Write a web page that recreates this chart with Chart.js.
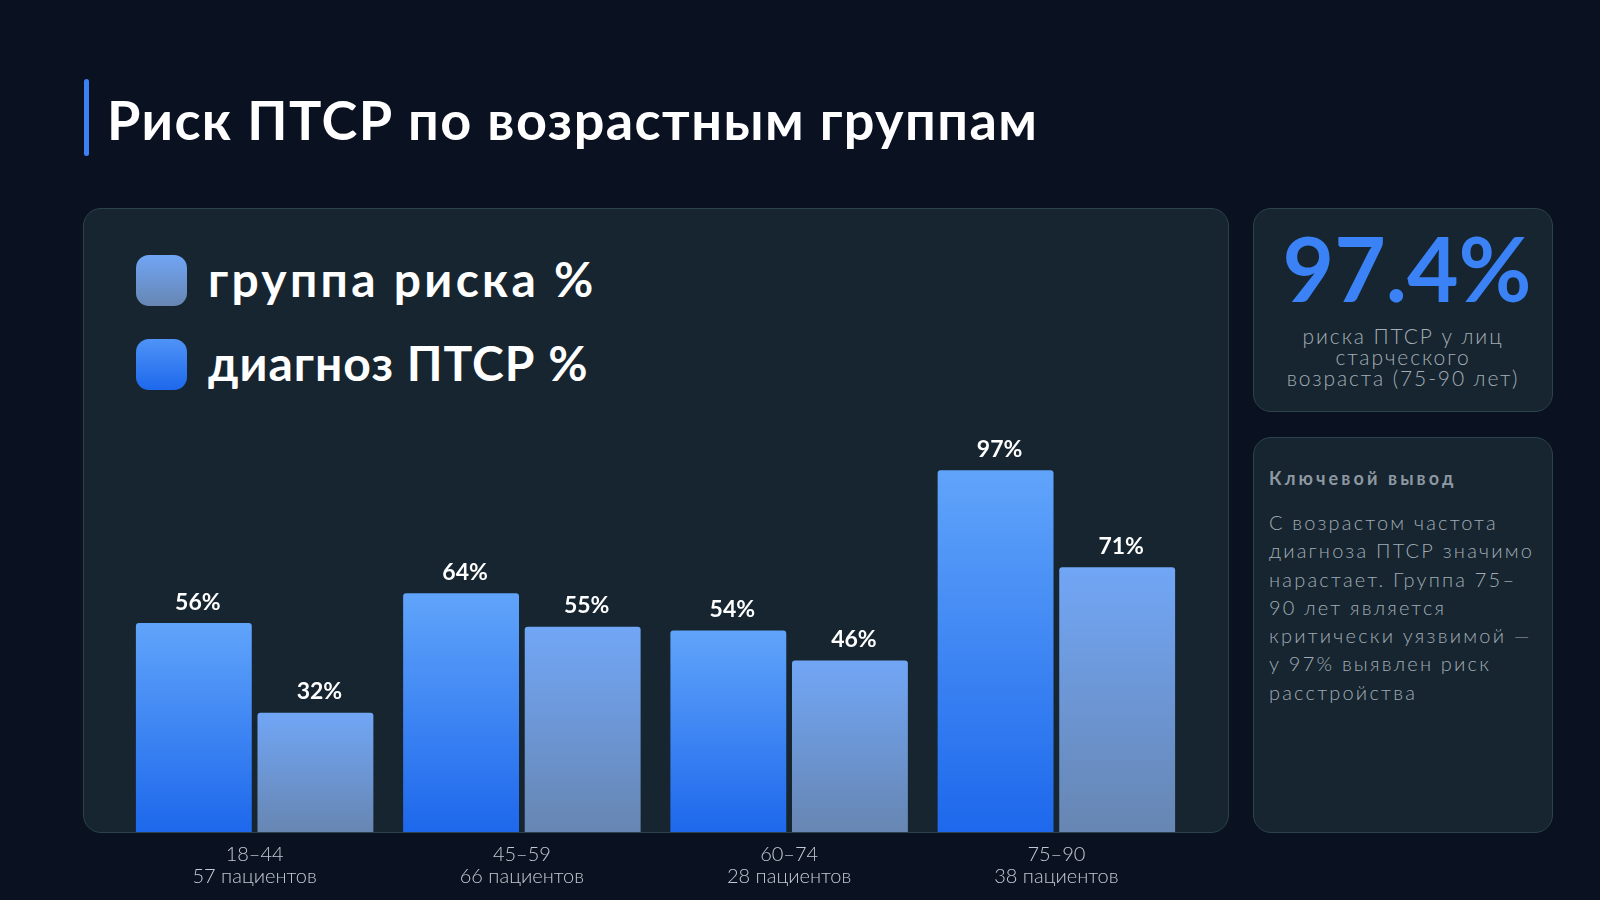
<!DOCTYPE html>
<html lang="ru">
<head>
<meta charset="utf-8">
<title>Риск ПТСР по возрастным группам</title>
<script src="https://cdn.jsdelivr.net/npm/chart.js@4.4.1/dist/chart.umd.min.js"></script>
<style>
    body {
        margin: 0;
        width: 1600px;
        height: 900px;
        overflow: hidden;
        background: #0a1120;
        font-family: Lato, "Open Sans", sans-serif;
        position: relative;
    }

    .title_bar {
        position: absolute;
        left: 84px;
        top: 79px;
        width: 5px;
        height: 77px;
        border-radius: 3px;
        background: #3b82f6;
    }

    .title {
        position: absolute;
        left: 107px;
        top: 86px;
        margin: 0;
        font-size: 54px;
        line-height: 68px;
        font-weight: 700;
        color: #ffffff;
        letter-spacing: 1.45px;
    }

    .panel {
        position: absolute;
        box-sizing: border-box;
        background: #16252f;
        border: 1.5px solid #2c434c;
        border-radius: 18px;
    }

    .legend_row {
        position: absolute;
        left: 136px;
        display: flex;
        align-items: center;
    }

    .legend_box {
        width: 51px;
        height: 51px;
        border-radius: 13px;
        margin-right: 21px;
    }

    .legend_text {
        font-size: 48px;
        font-weight: 700;
        color: #ffffff;
        letter-spacing: 1px;
        position: relative;
        top: -2px;
    }

    .big_number {
        position: absolute;
        left: 1258px;
        width: 298px;
        top: 218px;
        text-align: center;
        font-size: 89px;
        line-height: 100px;
        font-weight: 700;
        color: #3b82f6;
        letter-spacing: 0px;
    }

    .big_caption {
        position: absolute;
        left: 1254px;
        width: 298px;
        top: 325px;
        text-align: center;
        font-size: 21px;
        line-height: 21px;
        font-weight: 300;
        color: #a3adb6;
        letter-spacing: 1.9px;
    }

    .key_title {
        position: absolute;
        left: 1269px;
        top: 467px;
        font-size: 18px;
        font-weight: 700;
        color: #8e98a2;
        letter-spacing: 3.1px;
    }

    .key_text {
        position: absolute;
        left: 1269px;
        top: 508px;
        font-size: 20px;
        line-height: 28.3px;
        font-weight: 300;
        color: #a0abb5;
        letter-spacing: 2.2px;
    }

    #chartBox {
        position: absolute;
        left: 84px;
        top: 400px;
        width: 1144px;
        height: 500px;
    }
</style>
</head>
<body>

<div class="title_bar"></div>
<h1 class="title">Риск ПТСР по возрастным группам</h1>

<div class="panel" style="left: 83px; top: 208px; width: 1146px; height: 625px;"></div>
<div class="panel" style="left: 1253px; top: 208px; width: 300px; height: 204px;"></div>
<div class="panel" style="left: 1253px; top: 437px; width: 300px; height: 396px;"></div>

<div class="legend_row" style="top: 252px;">
    <div class="legend_box" style="background: linear-gradient(#70a5f5, #6786b2);"></div>
    <div class="legend_text" style="letter-spacing: 3.3px;">группа риска %</div>
</div>
<div class="legend_row" style="top: 336px;">
    <div class="legend_box" style="background: linear-gradient(#4f93f7, #1d68ec);"></div>
    <div class="legend_text">диагноз ПТСР %</div>
</div>

<div class="big_number">97.4%</div>
<div class="big_caption">риска ПТСР у лиц<br>старческого<br>возраста (75-90 лет)</div>

<div class="key_title">Ключевой вывод</div>
<div class="key_text">С возрастом частота<br>диагноза ПТСР значимо<br>нарастает. Группа 75–<br>90 лет является<br>критически уязвимой —<br>у 97% выявлен риск<br>расстройства</div>

<div id="chartBox"><canvas id="myChart"></canvas></div>

<script>
let ageGroups = ['18–44', '45–59', '60–74', '75–90'];
let patientCounts = ['57 пациентов', '66 пациентов', '28 пациентов', '38 пациентов'];
let riskGroupPct = [56, 64, 54, 97];
let diagnosisPct = [32, 55, 46, 71];

function barGradient(ctx, topColor, bottomColor) {
    let chart = ctx.chart;
    if (!chart.chartArea || !chart.scales.y) {
        return bottomColor;
    }
    let yTop = chart.scales.y.getPixelForValue(ctx.raw);
    let yBottom = chart.scales.y.getPixelForValue(0);
    if (!isFinite(yTop) || yTop >= yBottom) {
        return bottomColor;
    }
    let gradient = chart.ctx.createLinearGradient(0, yTop, 0, yBottom);
    gradient.addColorStop(0, topColor);
    gradient.addColorStop(1, bottomColor);
    return gradient;
}

// подписи над столбцами
const valueLabels = {
    id: 'valueLabels',
    afterDatasetsDraw(chart) {
        let c = chart.ctx;
        c.save();
        c.font = '700 23px Lato';
        c.fillStyle = '#ffffff';
        c.textAlign = 'center';
        c.textBaseline = 'middle';
        chart.data.datasets.forEach((dataset, d) => {
            let meta = chart.getDatasetMeta(d);
            meta.data.forEach((bar, i) => {
                c.fillText(dataset.data[i] + '%', bar.x + 4, bar.y - 21);
            });
        });
        c.restore();
    }
};

function createChart() {
    const ctx = document.getElementById('myChart');

    let labels = [];
    for (let i = 0; i < ageGroups.length; i++) {
        labels.push([ageGroups[i], patientCounts[i]]);
    }

    new Chart(ctx, {
        type: 'bar',
        data: {
            labels: labels,
            datasets: [{
                label: 'группа риска %',
                data: riskGroupPct,
                backgroundColor: (c) => barGradient(c, '#60a4fa', '#1d68ec'),
                borderRadius: { topLeft: 3, topRight: 3 },
                borderSkipped: 'bottom'
            }, {
                label: 'диагноз ПТСР %',
                data: diagnosisPct,
                backgroundColor: (c) => barGradient(c, '#71a6f6', '#6786b2'),
                borderRadius: { topLeft: 3, topRight: 3 },
                borderSkipped: 'bottom'
            }]
        },
        options: {
            responsive: true,
            maintainAspectRatio: false,
            animation: false,
            categoryPercentage: 0.91,
            barPercentage: 0.953,
            layout: {
                padding: { left: 37, right: 38, top: 59, bottom: 0 }
            },
            plugins: {
                legend: { display: false },
                tooltip: { enabled: false }
            },
            scales: {
                x: {
                    grid: { display: false, drawTicks: false },
                    border: { display: false },
                    ticks: {
                        color: '#c3cad3',
                        padding: 12,
                        font: { family: 'Lato', size: 20, weight: 300, lineHeight: 1.08 }
                    },
                    afterFit: (scale) => { scale.height = 68; }
                },
                y: {
                    display: false,
                    min: 0,
                    max: 100
                }
            }
        },
        plugins: [valueLabels]
    });
}

createChart();
</script>
</body>
</html>
